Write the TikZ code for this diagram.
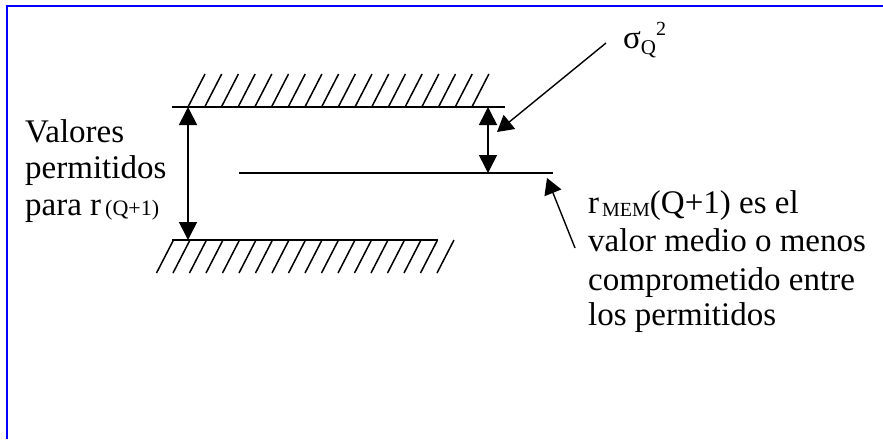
\documentclass[tikz,border=0pt]{standalone}
\usepackage{fontspec}
\setmainfont{Liberation Serif}
\usetikzlibrary{arrows.meta}
\begin{document}
\begin{tikzpicture}[x=1pt,y=-1pt,
  wall/.style={line width=2pt},
  hatch/.style={line width=1.5pt},
  dim/.style={line width=1.6pt,{Triangle[length=18pt,width=18pt]}-{Triangle[length=18pt,width=18pt]}},
  pointer/.style={line width=1.4pt,-{Triangle[length=16pt,width=18pt]}},
  txt/.style={font=\fontsize{33}{37}\selectfont, inner sep=0pt, anchor=base west},
  frame/.style={blue, line width=2.2pt}]
\useasboundingbox (0,0) rectangle (883,439);
\fill[white] (0,0) rectangle (883,439);
\draw[frame] (7,439) -- (7,6) -- (883,6);

% upper limit with hatching
\coordinate (ua) at (172,107);
\coordinate (ub) at (505,107);
\draw[wall] (ua) -- (ub);
\foreach \i in {0,...,17} \draw[hatch] ({188+16.7*\i},107) -- ++(17,-33);

% lower limit with hatching
\coordinate (la) at (172,240);
\coordinate (lb) at (438,240);
\draw[wall] (la) -- (lb);
\foreach \i in {0,...,17} \draw[hatch] ({173.5+16.5*\i},240) -- ++(-17,33);

% middle value line
\coordinate (ma) at (239,173);
\coordinate (mb) at (553,173);
\draw[wall] (ma) -- (mb);

% dimension arrows
\coordinate (lt) at (188,107);
\coordinate (lbt) at (188,240);
\draw[dim] (lt) -- (lbt);
\coordinate (rt) at (488,107);
\coordinate (rb) at (488,173);
\draw[dim] (rt) -- (rb);

% left text
\node[txt] (v1) at (25,142) {Valores};
\node[txt] (v2) at (25,178) {permitidos};
\node[txt] (v3) at (25,215) {para r\kern4pt{\fontsize{22}{22}\selectfont(Q+1)}};

% sigma label
\node[txt] (sig) at (623,48) {σ\raisebox{-6pt}{\fontsize{21}{21}\selectfont Q}\raisebox{13pt}{\fontsize{20}{20}\selectfont 2}};
\coordinate (sigs) at (606,43);
\coordinate (sigt) at (497,132);
\draw[pointer] (sigs) -- (sigt);

% right text
\node[txt] (m1) at (588,213) {r\kern3pt\raisebox{-3pt}{\fontsize{20}{20}\selectfont MEM}(Q+1) es el};
\node[txt] (m2) at (588,251) {valor medio o menos};
\node[txt] (m3) at (588,290) {comprometido entre};
\node[txt] (m4) at (588,325) {los permitidos};
\coordinate (ms) at (575,248);
\coordinate (mt) at (547,178);
\draw[pointer] (ms) -- (mt);
\end{tikzpicture}
\end{document}
